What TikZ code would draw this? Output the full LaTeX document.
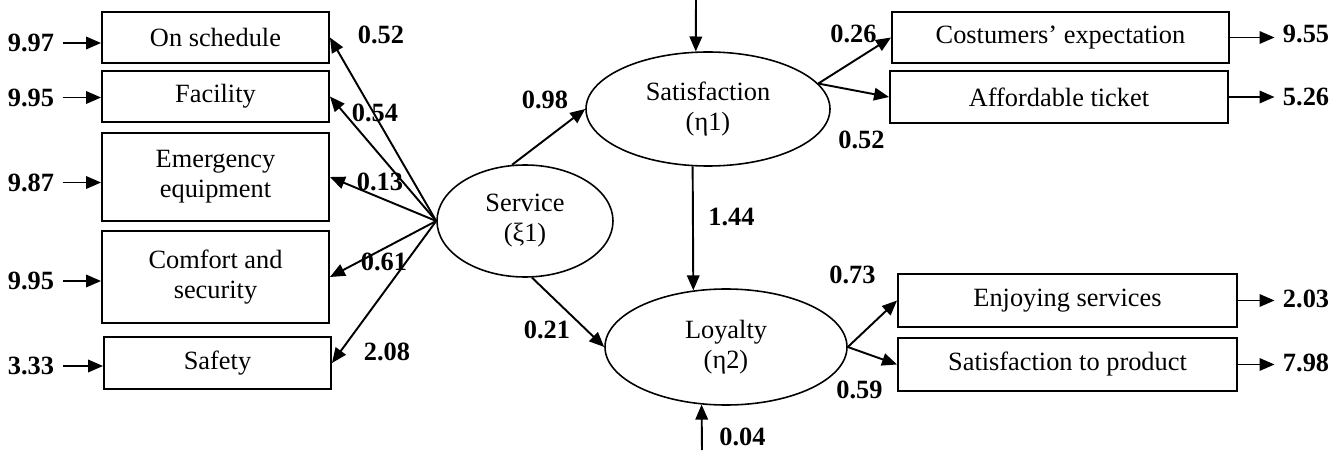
\documentclass[tikz,border=0pt]{standalone}
\usepackage{fontspec}
\setmainfont{Liberation Serif}
\usetikzlibrary{arrows.meta,shapes.geometric}

\begin{document}
\begin{tikzpicture}[x=1cm, y=1cm, line width=1.1pt,
    >={Triangle[length=0.3cm, width=0.25cm]},
    ind/.style={draw, rectangle, minimum height=1.02cm, align=center,
                inner sep=1pt, font=\fontsize{15}{17}\selectfont},
    lat/.style={draw, ellipse, line width=0.9pt, inner sep=0pt, align=center,
                font=\fontsize{15}{17}\selectfont},
    coef/.style={inner sep=0.15cm, font=\fontsize{15}{17}\selectfont\bfseries}]
  \useasboundingbox (0,0) rectangle (26.84,9);
  % the latent variables
  \node[lat, minimum width=3.52cm, minimum height=2.24cm] (serv) at (10.5,4.58)
    {Service\\(ξ1)};
  \node[lat, minimum width=4.88cm, minimum height=2.28cm] (satis) at (14.16,6.82)
    {Satisfaction\\(η1)};
  \node[lat, minimum width=4.84cm, minimum height=2.32cm] (loyal) at (14.52,2.06)
    {Loyalty\\(η2)};
  % indicators of service, on the left
  \node[ind, minimum width=4.54cm] (sched) at (4.31,8.25) {On schedule};
  \node[ind, minimum width=4.54cm] (facil) at (4.31,7.07) {Facility};
  \node[ind, minimum width=4.54cm, minimum height=1.76cm] (emerg) at (4.31,5.46)
    {Emergency\\equipment};
  \node[ind, minimum width=4.54cm, minimum height=1.84cm] (comf) at (4.31,3.46)
    {Comfort and\\security};
  \node[ind, minimum width=4.54cm, minimum height=1.04cm] (safe) at (4.35,1.74)
    {Safety};
  % indicators of satisfaction and loyalty, on the right
  \node[ind, minimum width=6.74cm] (expect) at (21.21,8.25) {Costumers’ expectation};
  \node[ind, minimum width=6.76cm, minimum height=1.04cm] (ticket) at (21.18,7.06)
    {Affordable ticket};
  \node[ind, minimum width=6.78cm, minimum height=1.06cm] (enjoy) at (21.35,2.99)
    {Enjoying services};
  \node[ind, minimum width=6.78cm, minimum height=1.06cm] (product) at (21.35,1.71)
    {Satisfaction to product};
  % errors of the left indicators
  \foreach \n/\v/\y in {sched/9.97/8.14, facil/9.95/7.05, emerg/9.87/5.35,
                        comf/9.95/3.38, safe/3.33/1.68}{
    \node[coef, anchor=east] (e\n) at (1.25,\y) {\v};
    \draw[->] (e\n.east) -- (e\n.east -| \n.west);}
  % loadings of service
  \foreach \n/\v/\x/\y in {sched/0.52/7.62/8.30, facil/0.54/7.50/6.74,
                           emerg/0.13/7.60/5.36, comf/0.61/7.68/3.76,
                           safe/2.08/7.74/1.96}{
    \draw[->] (serv.west) -- (\n.east);
    \node[coef] (l\n) at (\x,\y) {\v};}
  % structural paths
  \draw[->] (serv.103) -- (satis.west);
  \node[coef] (lsatis) at (10.90,7.00) {0.98};
  \draw[->] (serv.277) -- (loyal.west);
  \node[coef] (lloyal) at (10.94,2.40) {0.21};
  \draw[->] (satis.255) -- (loyal.120);
  \node[coef] (lpath) at (14.63,4.67) {1.44};
  % disturbances
  \coordinate (zeta1) at (13.92,9);
  \draw[->] (zeta1) -- (satis.102);
  \coordinate (zeta2) at (14.04,0);
  \draw[->] (zeta2) -- (loyal.247);
  \node[coef] (dloyal) at (14.85,0.26) {0.04};
  % loadings of satisfaction and loyalty
  \draw[->] (satis.13) -- (expect.west);
  \draw[->] (satis.13) -- (ticket.west);
  \node[coef] (lexpect) at (17.07,8.32) {0.26};
  \node[coef] (lticket) at (17.23,6.20) {0.52};
  \draw[->] (loyal.east) -- (enjoy.west);
  \draw[->] (loyal.east) -- (product.west);
  \node[coef] (lenjoy) at (17.05,3.50) {0.73};
  \node[coef] (lproduct) at (17.19,1.20) {0.59};
  % errors of the right indicators
  \foreach \n/\v/\y in {expect/9.55/8.33, ticket/5.26/7.06, enjoy/2.03/3.02,
                        product/7.98/1.75}{
    \node[coef, anchor=west] (e\n) at (25.49,\y) {\v};
    \draw[->] (\n.east) -- (\n.east -| e\n.west);}
\end{tikzpicture}
\end{document}
